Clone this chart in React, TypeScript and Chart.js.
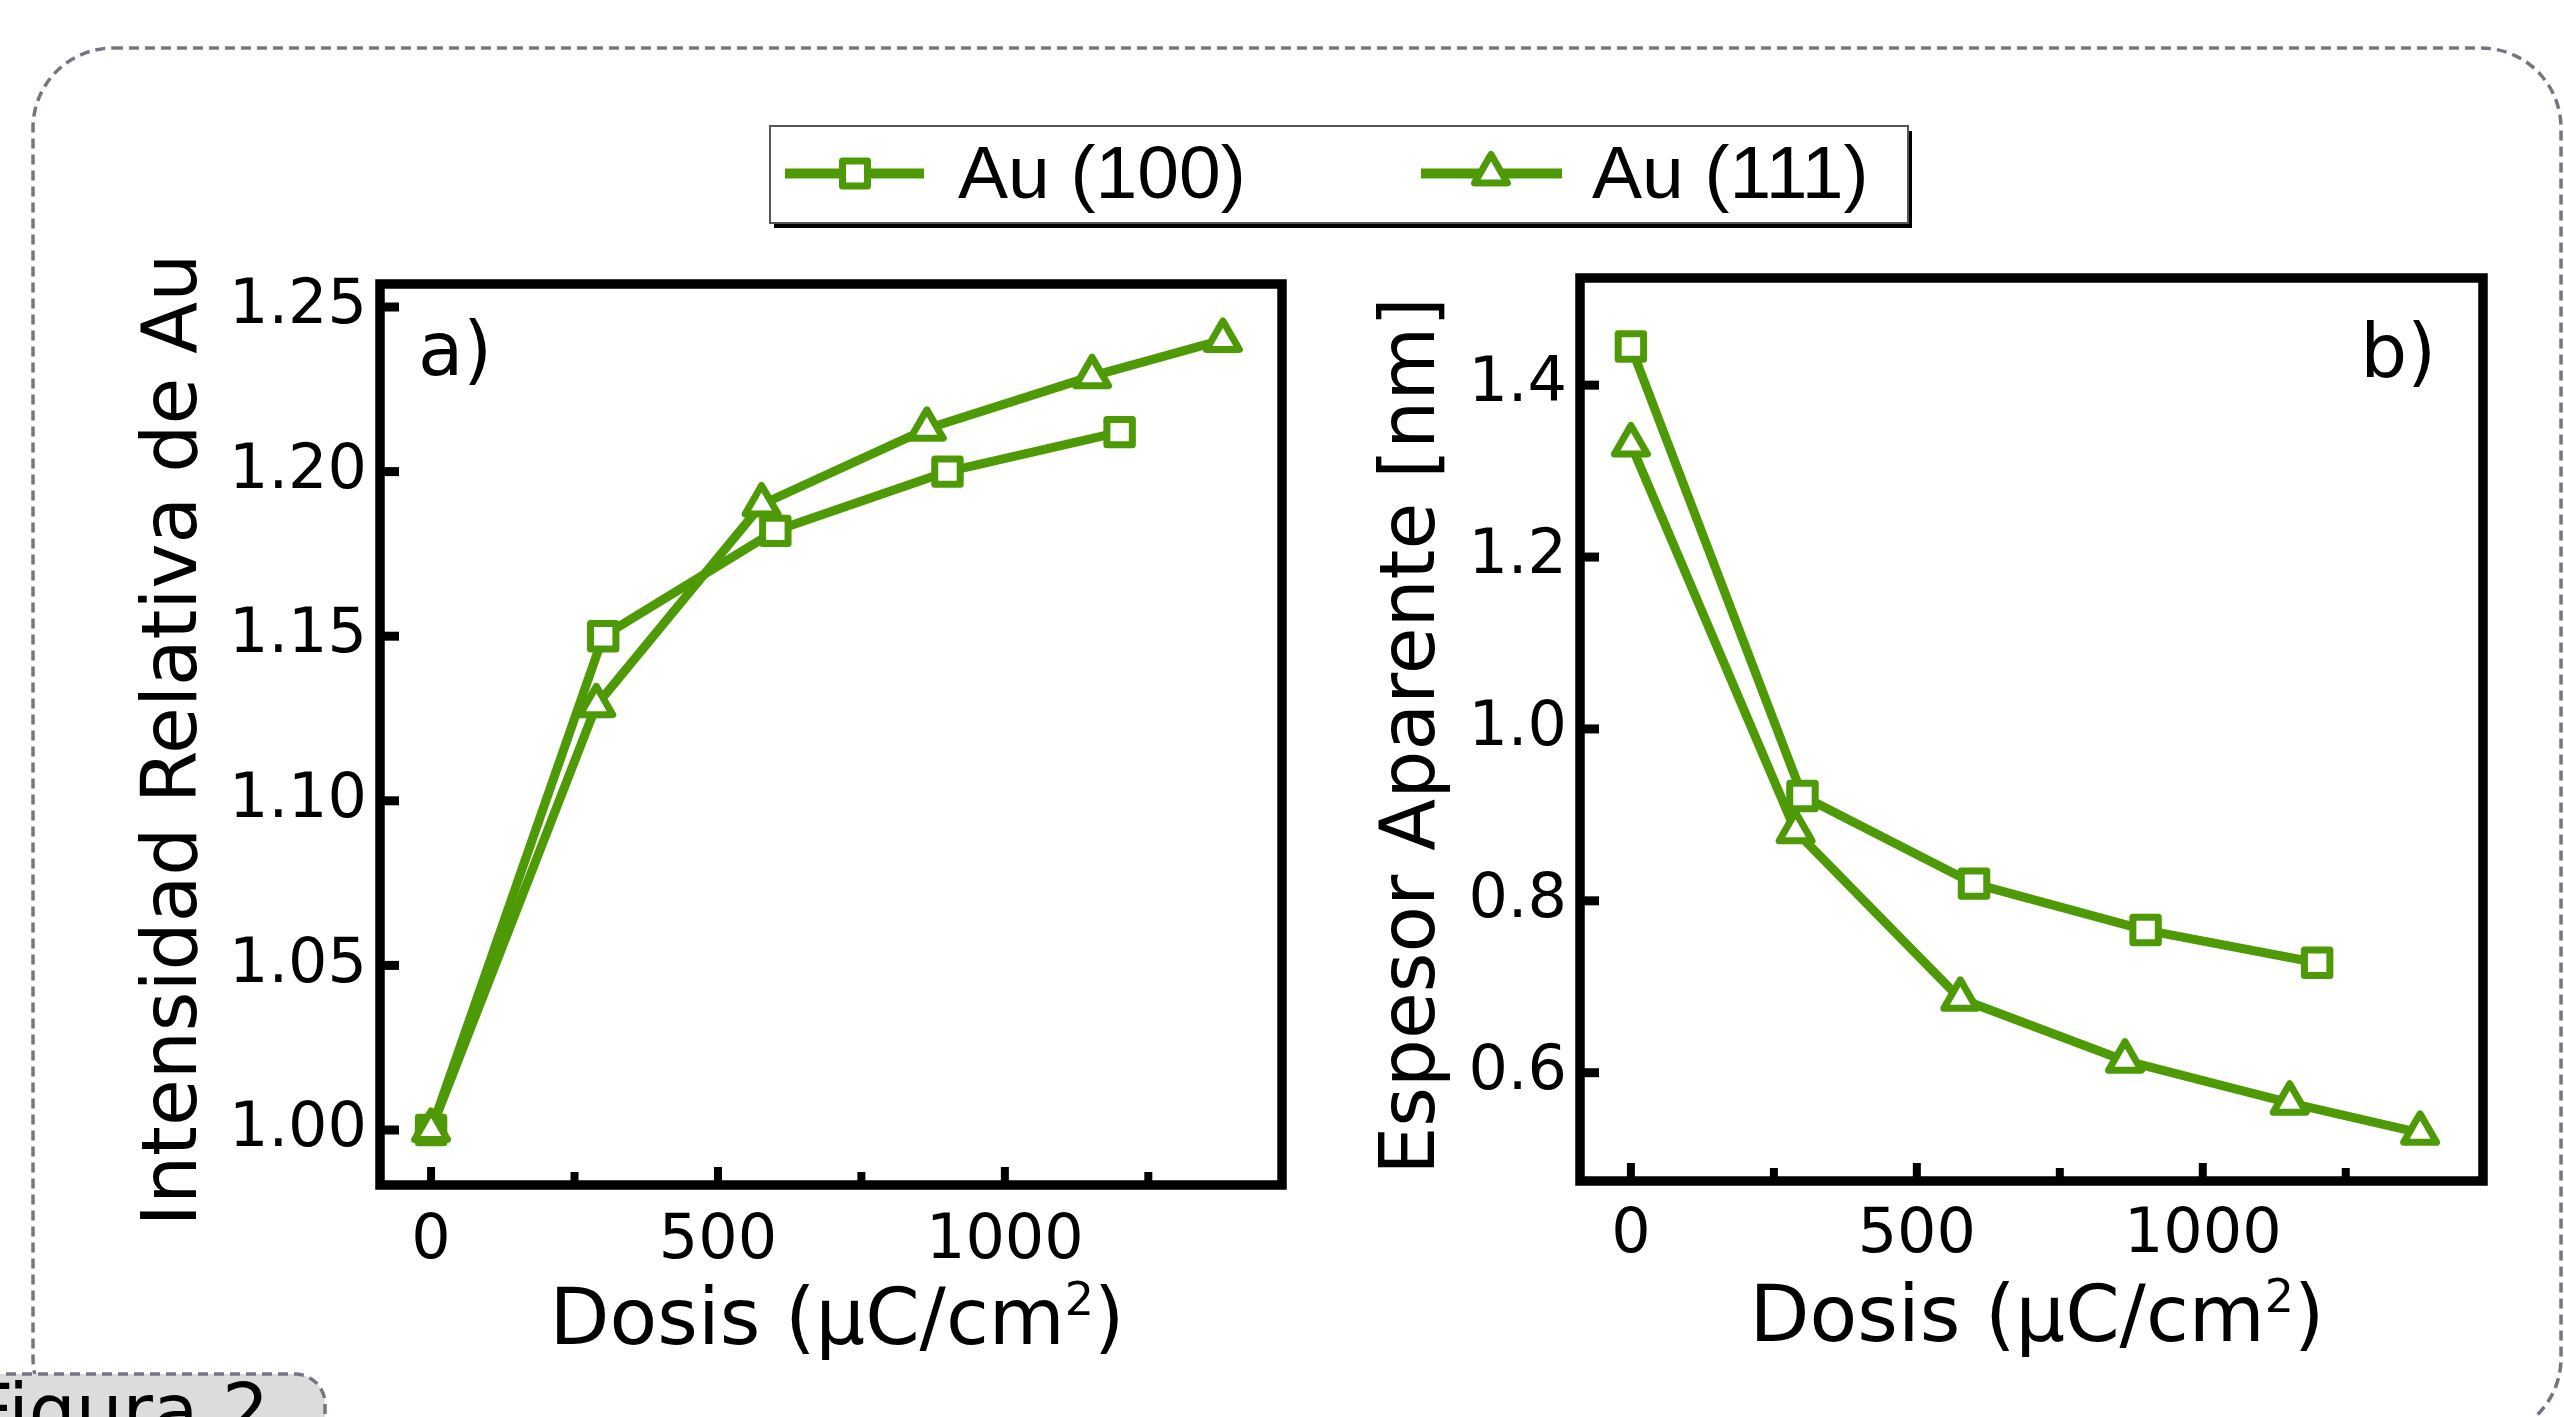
import React, { useEffect, useRef } from 'react';
import { Chart, registerables } from 'chart.js';

Chart.register(...registerables);

const GREEN = '#4e9a06';
const FONT = '"DejaVu Sans", Verdana, sans-serif';
const LEGEND_FONT = '"Liberation Sans", Arial, sans-serif';

// ---- data ----
const seriesNames = ['Au (100)', 'Au (111)'];
const dosis100 = [0, 300, 600, 900, 1200];
const dosis111 = [0, 288, 576, 864, 1152, 1380];
const intensidad100 = [1.0, 1.15, 1.182, 1.2, 1.212];
const intensidad111 = [1.0, 1.129, 1.19, 1.213, 1.229, 1.24];
const espesor100 = [1.445, 0.922, 0.82, 0.766, 0.728];
const espesor111 = [1.331, 0.881, 0.686, 0.614, 0.565, 0.53];

const xMajorTicks = [0, 500, 1000];
const xMinorTicks = [250, 750, 1250];
const xTickLabels = ['0', '500', '1000'];
const yTicksA = [1.0, 1.05, 1.1, 1.15, 1.2, 1.25];
const yTickLabelsA = ['1.00', '1.05', '1.10', '1.15', '1.20', '1.25'];
const yTicksB = [0.6, 0.8, 1.0, 1.2, 1.4];
const yTickLabelsB = ['0.6', '0.8', '1.0', '1.2', '1.4'];

type Spec = {
  left: number; top: number; W: number; H: number;
  area: { left: number; top: number; right: number; bottom: number };
  xMin: number; xMax: number; yMin: number; yMax: number;
  yTicks: number[]; yTickLabels: string[];
  y100: number[]; y111: number[];
  yTitle: string; yTitleX: number; yTitleY: number;
  xTitleX: number; xTitleBaseline: number; xTickPad: number;
  panelLabel: string; panelLabelX: number; panelLabelY: number; panelLabelAlign: CanvasTextAlign;
};

function makeDecor(spec: Spec) {
  return {
    id: 'decor',
    beforeDatasetsDraw(chart: any) {
      chart.ctx.save();
      chart.ctx.lineJoin = 'round';
    },
    afterDatasetsDraw(chart: any) {
      chart.ctx.restore();
    },
    afterDraw(chart: any) {
      const ctx: CanvasRenderingContext2D = chart.ctx;
      const a = chart.chartArea;
      const xs = chart.scales.x;
      const ys = chart.scales.y;
      ctx.save();
      ctx.strokeStyle = '#000';
      ctx.lineJoin = 'miter';
      ctx.lineCap = 'butt';
      // frame
      ctx.lineWidth = 9.5;
      ctx.strokeRect(a.left, a.top, a.right - a.left, a.bottom - a.top);
      // y ticks (inward)
      ctx.lineWidth = 9;
      for (const v of spec.yTicks) {
        const py = ys.getPixelForValue(v);
        ctx.beginPath();
        ctx.moveTo(a.left, py);
        ctx.lineTo(a.left + 19, py);
        ctx.stroke();
      }
      // x ticks (inward)
      ctx.lineWidth = 8;
      for (const v of xMajorTicks) {
        const px = xs.getPixelForValue(v);
        ctx.beginPath();
        ctx.moveTo(px, a.bottom);
        ctx.lineTo(px, a.bottom - 18);
        ctx.stroke();
      }
      for (const v of xMinorTicks) {
        const px = xs.getPixelForValue(v);
        ctx.beginPath();
        ctx.moveTo(px, a.bottom);
        ctx.lineTo(px, a.bottom - 13);
        ctx.stroke();
      }
      // x title with superscript
      ctx.fillStyle = '#000';
      ctx.textBaseline = 'alphabetic';
      ctx.textAlign = 'left';
      const main = 'Dosis (μC/cm';
      const sup = '2';
      const end = ')';
      ctx.font = `78px ${FONT}`;
      const w1 = ctx.measureText(main).width;
      const w3 = ctx.measureText(end).width;
      ctx.font = `46px ${FONT}`;
      const w2 = ctx.measureText(sup).width;
      let x = spec.xTitleX - (w1 + w2 + w3) / 2;
      ctx.font = `78px ${FONT}`;
      ctx.fillText(main, x, spec.xTitleBaseline);
      x += w1;
      ctx.font = `46px ${FONT}`;
      ctx.fillText(sup, x, spec.xTitleBaseline - 29);
      x += w2;
      ctx.font = `78px ${FONT}`;
      ctx.fillText(end, x, spec.xTitleBaseline);
      // y title
      ctx.save();
      ctx.translate(spec.yTitleX, spec.yTitleY);
      ctx.rotate(-Math.PI / 2);
      ctx.textAlign = 'center';
      ctx.font = `76px ${FONT}`;
      ctx.fillText(spec.yTitle, 0, 0);
      ctx.restore();
      // panel label
      ctx.font = `74px ${FONT}`;
      ctx.textAlign = spec.panelLabelAlign;
      ctx.fillText(spec.panelLabel, spec.panelLabelX, spec.panelLabelY);
      ctx.restore();
    },
  };
}

function buildConfig(spec: Spec): any {
  const { W, H, area } = spec;
  const tickFont = { family: FONT, size: 62 };
  return {
    type: 'line',
    data: {
      datasets: [
        {
          label: seriesNames[0],
          order: 2,
          data: dosis100.map((x, i) => ({ x, y: spec.y100[i] })),
          borderColor: GREEN,
          borderWidth: 9,
          borderJoinStyle: 'round',
          tension: 0,
          fill: false,
          pointStyle: 'rect',
          pointRadius: 18,
          pointBorderWidth: 7,
          pointBorderColor: GREEN,
          pointBackgroundColor: '#fff',
          clip: false,
        },
        {
          label: seriesNames[1],
          order: 1,
          data: dosis111.map((x, i) => ({ x, y: spec.y111[i] })),
          borderColor: GREEN,
          borderWidth: 9,
          borderJoinStyle: 'round',
          tension: 0,
          fill: false,
          pointStyle: 'triangle',
          pointRadius: 19,
          pointBorderWidth: 7,
          pointBorderColor: GREEN,
          pointBackgroundColor: '#fff',
          clip: false,
        },
      ],
    },
    options: {
      responsive: false,
      maintainAspectRatio: false,
      animation: false,
      devicePixelRatio: 1,
      events: [],
      layout: { padding: { left: 0, top: area.top, right: W - area.right, bottom: 0 } },
      plugins: { legend: { display: false }, tooltip: { enabled: false }, title: { display: false } },
      scales: {
        x: {
          type: 'linear',
          min: spec.xMin,
          max: spec.xMax,
          grid: { display: false, drawTicks: false },
          border: { display: false },
          ticks: {
            font: tickFont,
            color: '#000',
            padding: spec.xTickPad,
            maxRotation: 0,
            autoSkip: false,
            callback: (v: number) => xTickLabels[xMajorTicks.indexOf(v)],
          },
          afterBuildTicks: (s: any) => {
            s.ticks = xMajorTicks.map((v) => ({ value: v }));
          },
          afterFit: (s: any) => {
            s.height = H - area.bottom;
            s.paddingLeft = 0;
            s.paddingRight = 0;
          },
        },
        y: {
          type: 'linear',
          min: spec.yMin,
          max: spec.yMax,
          grid: { display: false, drawTicks: false },
          border: { display: false },
          ticks: {
            font: tickFont,
            color: '#000',
            padding: 13,
            autoSkip: false,
            callback: (v: number) => spec.yTickLabels[spec.yTicks.indexOf(v)],
          },
          afterBuildTicks: (s: any) => {
            s.ticks = spec.yTicks.map((v) => ({ value: v }));
          },
          afterFit: (s: any) => {
            s.width = area.left;
            s.paddingTop = 0;
            s.paddingBottom = 0;
          },
        },
      },
    },
    plugins: [makeDecor(spec)],
  };
}

function Panel({ spec }: { spec: Spec }) {
  const ref = useRef<HTMLCanvasElement>(null);
  useEffect(() => {
    if (!ref.current) return;
    const chart = new Chart(ref.current, buildConfig(spec));
    return () => chart.destroy();
  }, [spec]);
  return (
    <canvas
      ref={ref}
      width={spec.W}
      height={spec.H}
      style={{ position: 'absolute', left: spec.left, top: spec.top, width: spec.W, height: spec.H }}
    />
  );
}

const specA: Spec = {
  left: 0, top: 230, W: 1340, H: 1187,
  area: { left: 380, top: 54, right: 1282, bottom: 955 },
  xMin: -89, xMax: 1483, yMin: 0.98329, yMax: 1.25699,
  yTicks: yTicksA, yTickLabels: yTickLabelsA,
  y100: intensidad100, y111: intensidad111,
  yTitle: 'Intensidad Relativa de Au', yTitleX: 196, yTitleY: 510,
  xTitleX: 837, xTitleBaseline: 1114, xTickPad: 20,
  panelLabel: 'a)', panelLabelX: 418, panelLabelY: 145, panelLabelAlign: 'left',
};

const specB: Spec = {
  left: 1340, top: 230, W: 1224, H: 1187,
  area: { left: 240, top: 48, right: 1143, bottom: 951 },
  xMin: -89, xMax: 1490, yMin: 0.474, yMax: 1.5247,
  yTicks: yTicksB, yTickLabels: yTickLabelsB,
  y100: espesor100, y111: espesor111,
  yTitle: 'Espesor Aparente [nm]', yTitleX: 94, yTitleY: 506,
  xTitleX: 697, xTitleBaseline: 1111, xTickPad: 18,
  panelLabel: 'b)', panelLabelX: 1096, panelLabelY: 147, panelLabelAlign: 'right',
};

function tri(cx: number, cy: number, r: number) {
  const s = Math.sin((2 * Math.PI) / 3) * r;
  return `${cx},${cy - r} ${cx + s},${cy + r / 2} ${cx - s},${cy + r / 2}`;
}

export default function App() {
  const ly = 173.5;
  return (
    <div style={{ position: 'absolute', left: 0, top: 0, width: 2564, height: 1417, overflow: 'hidden', background: '#fff' }}>
      <svg width={2564} height={1417} style={{ position: 'absolute', left: 0, top: 0 }}>
        <rect x={33} y={48} width={2528} height={1390} rx={80} ry={80} fill="none"
          stroke="#737682" strokeWidth={3.5} strokeDasharray="10 6" />
        {/* legend */}
        <rect x={774} y={131} width={1138} height={97} fill="#000" />
        <rect x={770} y={126} width={1138} height={97} fill="#fff" stroke="#555" strokeWidth={2} />
        <line x1={785} y1={ly} x2={924} y2={ly} stroke={GREEN} strokeWidth={10} />
        <rect x={855 - 12.5} y={ly - 12.5} width={25} height={25} fill="#fff" stroke={GREEN} strokeWidth={7} strokeLinejoin="round" />
        <text x={958} y={198} fontFamily={LEGEND_FONT} fontSize={75} fill="#000">{seriesNames[0]}</text>
        <line x1={1421} y1={ly} x2={1562} y2={ly} stroke={GREEN} strokeWidth={10} />
        <polygon points={tri(1491, ly, 19)} fill="#fff" stroke={GREEN} strokeWidth={7} strokeLinejoin="round" />
        <text x={1592} y={198} fontFamily={LEGEND_FONT} fontSize={75} fill="#000">{seriesNames[1]}</text>
        {/* figure label */}
        <rect x={-40} y={1374} width={365} height={90} rx={30} ry={30} fill="#dcdcdc"
          stroke="#737682" strokeWidth={3.5} strokeDasharray="10 6" />
        <text x={-29} y={1437} fontFamily={FONT} fontSize={74} fill="#000">Figura 2</text>
      </svg>
      <Panel spec={specA} />
      <Panel spec={specB} />
    </div>
  );
}
